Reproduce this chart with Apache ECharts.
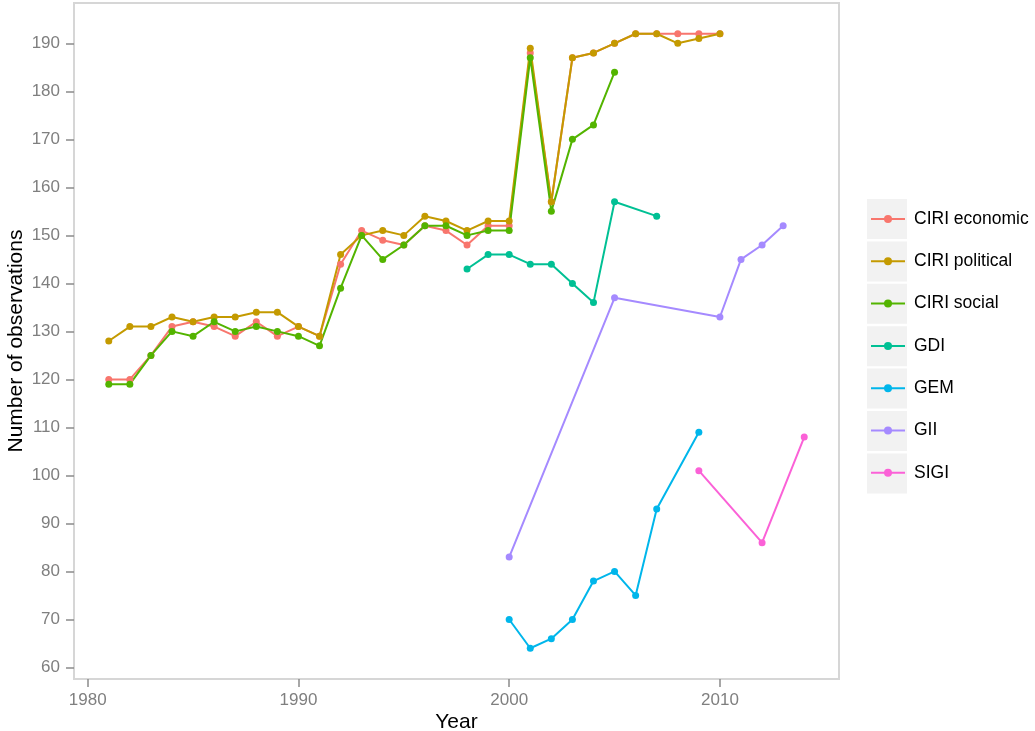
<!DOCTYPE html>
<html>
<head>
<meta charset="utf-8">
<script src="https://cdn.jsdelivr.net/npm/echarts@6/dist/echarts.min.js"></script>
<style>
  html, body { margin: 0; padding: 0; background: #fff; }
  #chart { width: 1035px; height: 731px; }
</style>
</head>
<body>
<div id="chart"></div>
<script>
// 数据：每个指标 [年份, 观测数]
var seriesNames = ['CIRI economic', 'CIRI political', 'CIRI social', 'GDI', 'GEM', 'GII', 'SIGI'];
var seriesColors = ['#F8766D', '#C49A00', '#53B400', '#00C094', '#00B6EB', '#A58AFF', '#FB61D7'];

var ciriYears = [1981, 1982, 1983, 1984, 1985, 1986, 1987, 1988, 1989, 1990,
                 1991, 1992, 1993, 1994, 1995, 1996, 1997, 1998, 1999, 2000,
                 2001, 2002, 2003, 2004, 2005, 2006, 2007, 2008, 2009, 2010];
var ciriEconomic = [120, 120, 125, 131, 132, 131, 129, 132, 129, 131,
                    129, 144, 151, 149, 148, 152, 151, 148, 152, 152,
                    188, 157, 187, 188, 190, 192, 192, 192, 192, 192];
var ciriPolitical = [128, 131, 131, 133, 132, 133, 133, 134, 134, 131,
                     129, 146, 150, 151, 150, 154, 153, 151, 153, 153,
                     189, 157, 187, 188, 190, 192, 192, 190, 191, 192];
var ciriSocialYears = [1981, 1982, 1983, 1984, 1985, 1986, 1987, 1988, 1989, 1990,
                       1991, 1992, 1993, 1994, 1995, 1996, 1997, 1998, 1999, 2000,
                       2001, 2002, 2003, 2004, 2005];
var ciriSocial = [119, 119, 125, 130, 129, 132, 130, 131, 130, 129,
                  127, 139, 150, 145, 148, 152, 152, 150, 151, 151,
                  187, 155, 170, 173, 184];
var gdiYears = [1998, 1999, 2000, 2001, 2002, 2003, 2004, 2005, 2007];
var gdi = [143, 146, 146, 144, 144, 140, 136, 157, 154];
var gemYears = [2000, 2001, 2002, 2003, 2004, 2005, 2006, 2007, 2009];
var gem = [70, 64, 66, 70, 78, 80, 75, 93, 109];
var giiYears = [2000, 2005, 2010, 2011, 2012, 2013];
var gii = [83, 137, 133, 145, 148, 152];
var sigiYears = [2009, 2012, 2014];
var sigi = [101, 86, 108];

var xTicks = [1980, 1990, 2000, 2010];
var yTicks = [60, 70, 80, 90, 100, 110, 120, 130, 140, 150, 160, 170, 180, 190];

function pairs(xs, ys) {
    return xs.map(function (x, i) { return [x, ys[i]]; });
}

var seriesData = [
    pairs(ciriYears, ciriEconomic),
    pairs(ciriYears, ciriPolitical),
    pairs(ciriSocialYears, ciriSocial),
    pairs(gdiYears, gdi),
    pairs(gemYears, gem),
    pairs(giiYears, gii),
    pairs(sigiYears, sigi)
];

var font = '"Liberation Sans", Arial, sans-serif';
var myChart = echarts.init(document.getElementById('chart'), null, { renderer: 'canvas' });

// 图例背后的灰色方块
var keyBoxes = seriesNames.map(function (n, i) {
    return {
        type: 'rect',
        shape: { x: 867, y: 199 + i * 42.4, width: 40, height: 40 },
        style: { fill: '#f2f2f2' },
        z: 0
    };
});

var option = {
    backgroundColor: '#ffffff',
    animation: false,
    color: seriesColors,
    textStyle: { fontFamily: font },
    grid: {
        left: 74, top: 3, right: 196, bottom: 52,
        outerBoundsMode: 'none',
        containLabel: false,
        show: true, borderColor: '#d6d6d6', borderWidth: 2, backgroundColor: '#ffffff'
    },
    graphic: keyBoxes,
    legend: {
        orient: 'vertical',
        left: 870, top: 210,
        padding: 0,
        itemWidth: 34, itemHeight: 10, itemGap: 24.3,
        textStyle: { fontSize: 17.5, color: '#000', fontFamily: font, padding: [0, 0, 0, 4] },
        data: seriesNames
    },
    xAxis: {
        type: 'value',
        min: 1979.35, max: 2015.65,
        name: 'Year',
        nameLocation: 'middle',
        nameGap: 33,
        nameMoveOverlap: false,
        nameTextStyle: { fontSize: 21, color: '#000', fontFamily: font },
        axisLine: { show: false },
        splitLine: { show: false },
        axisTick: { show: true, length: 8, customValues: xTicks, lineStyle: { color: '#8a8a8a', width: 1.5 } },
        axisLabel: {
            customValues: xTicks, fontSize: 17, color: '#7f7f7f', margin: 13, fontFamily: font,
            formatter: function (v) { return String(v); }
        }
    },
    yAxis: {
        type: 'value',
        min: 57.6, max: 198.4,
        name: 'Number of observations',
        nameLocation: 'middle',
        nameGap: 47,
        nameMoveOverlap: false,
        nameTextStyle: { fontSize: 21, color: '#000', fontFamily: font },
        axisLine: { show: false },
        splitLine: { show: false },
        axisTick: { show: true, length: 8, customValues: yTicks, lineStyle: { color: '#8a8a8a', width: 1.5 } },
        axisLabel: { customValues: yTicks, fontSize: 17, color: '#7f7f7f', margin: 14, fontFamily: font }
    },
    series: seriesNames.map(function (n, i) {
        return {
            name: n,
            type: 'line',
            data: seriesData[i],
            symbol: 'circle',
            symbolSize: 7,
            lineStyle: { width: 2 },
            itemStyle: { color: seriesColors[i] },
            emphasis: { disabled: true }
        };
    })
};
myChart.setOption(option);
</script>
</body>
</html>
